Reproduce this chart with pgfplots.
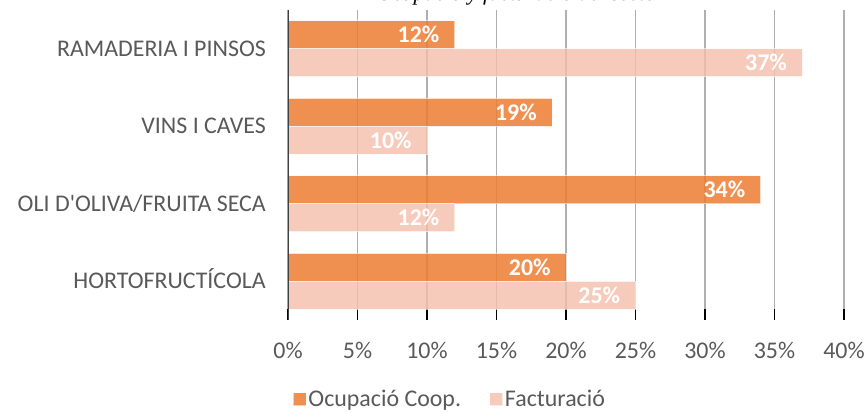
\documentclass[border=0pt]{standalone}
\usepackage{pgfplots}
\pgfplotsset{compat=1.18}
\usepackage{fontspec}
\setmainfont{Carlito}
\newfontfamily\titlefont{Liberation Serif}
\definecolor{orng}{RGB}{237,125,49}
\definecolor{pnk}{RGB}{244,190,170}
\definecolor{txt}{RGB}{89,89,89}
\definecolor{gridc}{RGB}{175,175,175}
\definecolor{axc}{RGB}{64,64,64}
\begin{document}
\begin{tikzpicture}
\path[use as bounding box] (-288bp,-92bp) rectangle (578bp,320bp);
\begin{axis}[
  scale only axis, width=556bp, height=310bp,
  at={(0,0)}, anchor=south west,
  xmin=0, xmax=40, ymin=-0.5, ymax=3.5,
  xtick={0,5,10,15,20,25,30,35,40},
  xticklabels={0\%,5\%,10\%,15\%,20\%,25\%,30\%,35\%,40\%},
  ytick={0,1,2,3},
  yticklabels={HORTOFRUCTÍCOLA,OLI D\textquotesingle OLIVA/FRUITA SECA,VINS I CAVES,RAMADERIA I PINSOS},
  axis line style={draw=none},
  xmajorgrids, grid style={color=gridc, line width=1.2bp},
  xtick pos=left, tick align=inside, major tick length=11bp,
  xtick style={draw=black, line width=1.2bp},
  ytick style={draw=none},
  tick label style={font=\fontsize{24}{28}\selectfont, text=txt, inner sep=0pt},
  xticklabel style={yshift=-22bp},
  yticklabel style={anchor=base east, xshift=-22bp, yshift=-7.6bp},
  point meta=x,
  /pgf/number format/assume math mode=true,
  nodes near coords={\pgfmathprintnumber{\pgfplotspointmeta}\%},
  every node near coord/.append style={anchor=east, xshift=-15bp, inner sep=0pt,
     text=white, text opacity=1, font=\bfseries\fontsize{24}{28}\selectfont},
  legend style={at={(0.291,-0.255)}, anchor=center, draw=none, fill=none,
     legend columns=2, font=\fontsize{24}{28}\selectfont, text=txt,
     /tikz/every even column/.append style={column sep=26bp},
     nodes={inner sep=2bp}},
  legend image code/.code={\fill[#1] (0bp,-6.5bp) rectangle (13bp,6.5bp);},
]
\addplot[xbar, bar width=0.36, bar shift=0pt, fill=orng, fill opacity=0.85,
   draw=white, draw opacity=0.6, line width=0.8bp]
  coordinates {(20,0.18) (34,1.18) (19,2.18) (12,3.18)};
\addlegendentry{Ocupació Coop.}
\addplot[xbar, bar width=0.36, bar shift=0pt, fill=pnk, fill opacity=0.8,
   draw=white, draw opacity=0.6, line width=0.8bp]
  coordinates {(25,-0.18) (12,0.82) (10,1.82) (37,2.82)};
\addlegendentry{Facturació}
\draw[axc, line width=3bp] (axis cs:0,-0.5) -- (axis cs:0,3.5);
\end{axis}
\node[anchor=base east, font=\titlefont\itshape\fontsize{22}{26}\selectfont] at (380bp,319.5bp) {Ocupació y facturació del sector};
\end{tikzpicture}
\end{document}
